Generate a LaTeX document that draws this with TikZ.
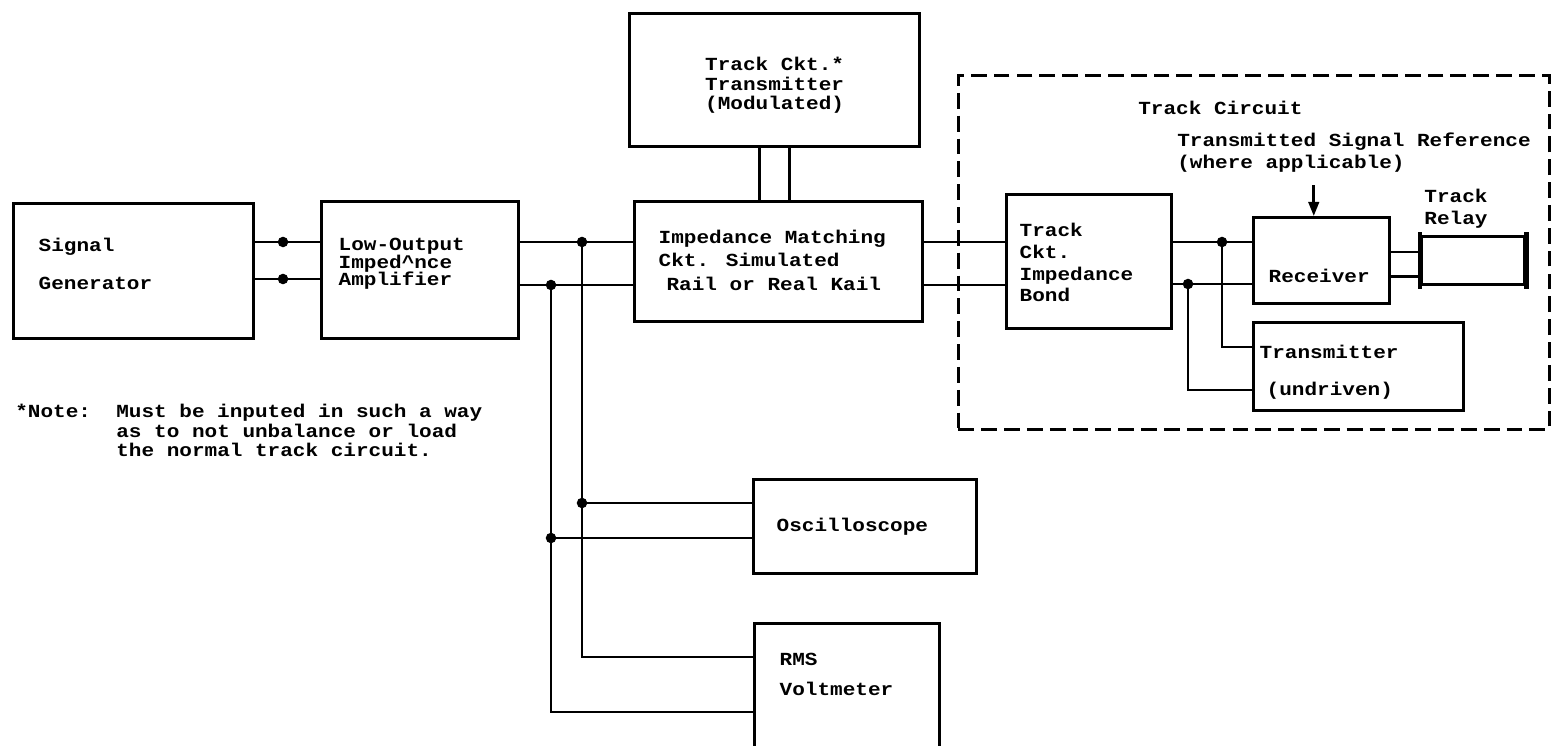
\documentclass[tikz,border=0pt]{standalone}
\usepackage{fontspec}
\newfontfamily\printerfont{Liberation Mono}[FakeStretch=1.14, WordSpace={1,0,0}]
\usetikzlibrary{arrows.meta}
\newcommand{\blockfont}{\printerfont\bfseries\fontsize{10.5}{12.5}\selectfont}

\begin{document}
\begin{tikzpicture}[
    x=0.02cm, y=-0.02cm,
    every node/.style={inner sep=0pt, font=\blockfont},
    block/.style={draw, rectangle, line width=1.9pt, anchor=north west, align=flush left},
    wire/.style={line width=1.5pt},
    frame/.style={draw, line width=1.6pt, dash pattern=on 9pt off 4pt, anchor=north west}
]
\useasboundingbox (0,0) rectangle (1551,746);
\clip (0,0) rectangle (1551,746);

\node (signal_generator) [block, minimum width=4.8cm, minimum height=2.7cm, text width=3.8cm, text height=7pt, text depth=29.9pt] at (12,202) {Signal\\[9.5pt]Generator};
\node (low_output_amp) [block, minimum width=3.94cm, minimum height=2.74cm, text width=3.26cm, text height=7pt, text depth=29.8pt] at (320,200) {Low-Output\\[-2.3pt]Imped\textasciicircum nce\\[-2.3pt]Amplifier};
\node (track_transmitter) [block, align=center, minimum width=5.8cm, minimum height=2.66cm, text height=33.9pt, text depth=0pt] at (628,12) {Track Ckt.*\\[-1.2pt]Transmitter\\[-1.2pt](Modulated)};
\node (impedance_matching) [block, minimum width=5.76cm, minimum height=2.4cm, text width=4.8cm, text height=7pt, text depth=28.1pt] at (633,200) {Impedance Matching\\[1pt]Ckt. Simulated\\[1pt]\hspace*{4.5pt}Rail or Real Kail};

\node (track_circuit_frame) [frame, minimum width=11.82cm, minimum height=7.08cm] at (957,74) {};
\node (track_circuit_label) [anchor=base west] at (1138,115) {Track Circuit};
\node (signal_reference) [anchor=west, align=left, inner ysep=7pt] at (1177,153) {Transmitted Signal Reference\\(where applicable)};
\node (relay_label) [align=center] at (1456,209) {Track\\Relay};

\node (impedance_bond) [block, minimum width=3.3cm, minimum height=2.68cm, text width=2.78cm, text height=7pt, text depth=36.1pt] at (1005,193) {Track\\Ckt.\\Impedance\\Bond};
\node (receiver_node) [block, minimum width=2.72cm, minimum height=1.72cm, text width=2.12cm, text height=27pt, text depth=1.8pt] at (1252,216) {Receiver};
\node (track_relay) [block, minimum width=2.06cm, minimum height=0.96cm] at (1420,235) {};
\node (undriven_transmitter) [block, minimum width=4.2cm, minimum height=1.76cm, text width=3.96cm, text height=7pt, text depth=16.7pt] at (1252,321) {Transmitter\\[9pt]\hspace*{4pt}(undriven)};

\node (oscilloscope_node) [block, minimum width=4.46cm, minimum height=1.88cm, text width=3.54cm, text height=7pt, text depth=2pt] at (752,478) {Oscilloscope};
\node (rms_voltmeter) [block, minimum width=3.7cm, minimum height=2.76cm, text width=2.7cm, text height=7pt, text depth=38.4pt] at (753,622) {RMS\\[5pt]Voltmeter};

\node (note_text) [anchor=north west, align=left] at (15,404) {*Note:~~Must be inputed in such a way\\[-1.5pt]\phantom{*Note:~~}as to not unbalance or load\\[-1.5pt]\phantom{*Note:~~}the normal track circuit.};

% wire taps
\coordinate (gen_tap_top) at (283,242);
\coordinate (gen_tap_bottom) at (283,279);
\coordinate (amp_tap_top) at (582,242);
\coordinate (amp_tap_bottom) at (551,285);
\coordinate (scope_tap_top) at (582,503);
\coordinate (scope_tap_bottom) at (551,538);
\coordinate (rms_in_top) at (753,657);
\coordinate (rms_in_bottom) at (753,712);
\coordinate (bond_tap_top) at (1222,242);
\coordinate (bond_tap_bottom) at (1188,284);
\coordinate (undriven_in_top) at (1252,347);
\coordinate (undriven_in_bottom) at (1252,390);

\draw[wire] (signal_generator.east |- gen_tap_top) -- (low_output_amp.west |- gen_tap_top);
\draw[wire] (signal_generator.east |- gen_tap_bottom) -- (low_output_amp.west |- gen_tap_bottom);
\draw[wire] (low_output_amp.east |- amp_tap_top) -- (impedance_matching.west |- amp_tap_top);
\draw[wire] (low_output_amp.east |- amp_tap_bottom) -- (impedance_matching.west |- amp_tap_bottom);

\draw[wire] (amp_tap_top) |- (rms_in_top);
\draw[wire] (amp_tap_bottom) |- (rms_in_bottom);
\draw[wire] (scope_tap_top) -- (oscilloscope_node.west |- scope_tap_top);
\draw[wire] (scope_tap_bottom) -- (oscilloscope_node.west |- scope_tap_bottom);

\draw[wire] ([xshift=-8.5pt]track_transmitter.south) -- ([xshift=-8.5pt]track_transmitter.south |- impedance_matching.north);
\draw[wire] ([xshift=8.5pt]track_transmitter.south) -- ([xshift=8.5pt]track_transmitter.south |- impedance_matching.north);

\draw[wire] (impedance_matching.east |- amp_tap_top) -- (impedance_bond.west |- amp_tap_top);
\draw[wire] (impedance_matching.east |- amp_tap_bottom) -- (impedance_bond.west |- amp_tap_bottom);
\draw[wire] (impedance_bond.east |- bond_tap_top) -- (receiver_node.west |- bond_tap_top);
\draw[wire] (impedance_bond.east |- bond_tap_bottom) -- (receiver_node.west |- bond_tap_bottom);
\draw[wire] (bond_tap_top) |- (undriven_in_top);
\draw[wire] (bond_tap_bottom) |- (undriven_in_bottom);

\draw[wire] ([yshift=5pt]receiver_node.east) -- ([yshift=5pt]receiver_node.east -| track_relay.west);
\draw[wire] ([yshift=-9pt]receiver_node.east) -- ([yshift=-9pt]receiver_node.east -| track_relay.west);
\draw[line width=2.6pt] ([yshift=1.5pt]track_relay.north west) -- ([yshift=-1.5pt]track_relay.south west);
\draw[line width=2.6pt] ([yshift=1.5pt]track_relay.north east) -- ([yshift=-1.5pt]track_relay.south east);

\draw[wire, -{Triangle[length=8pt, width=6pt]}] ([xshift=-4.5pt]receiver_node.north |- signal_reference.south) -- ([xshift=-4.5pt]receiver_node.north);

\foreach \tap in {gen_tap_top, gen_tap_bottom, amp_tap_top, amp_tap_bottom, scope_tap_top, scope_tap_bottom, bond_tap_top, bond_tap_bottom}
    \fill (\tap) circle (3pt);
\end{tikzpicture}
\end{document}
